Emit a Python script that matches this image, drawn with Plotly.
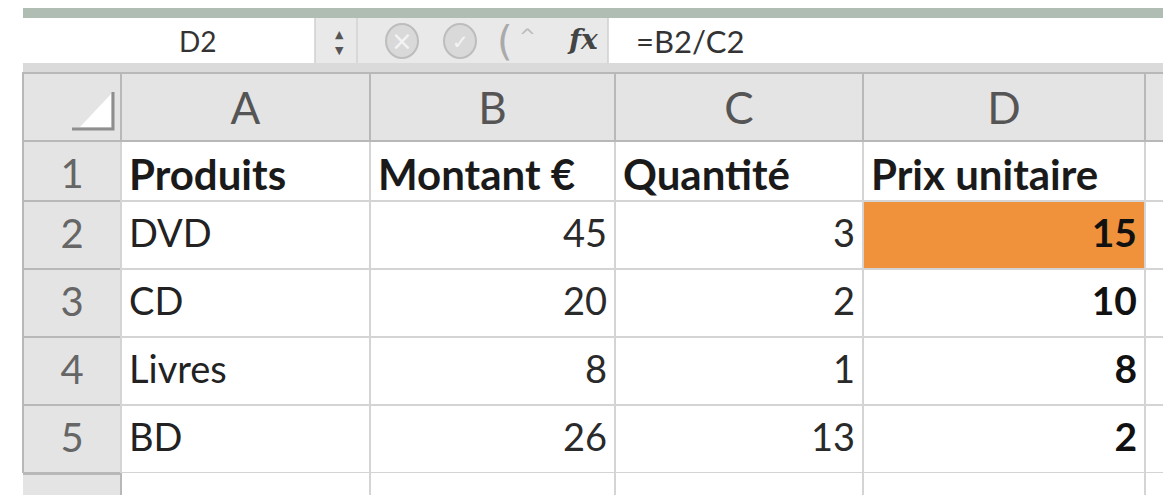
import plotly.graph_objects as go

# ---------------- data ----------------
col_letters = ["A", "B", "C", "D"]
row_numbers = ["1", "2", "3", "4", "5"]
titles = ["Produits", "Montant €", "Quantité", "Prix unitaire"]
produits = ["DVD", "CD", "Livres", "BD"]
montant = [45, 20, 8, 26]
quantite = [3, 2, 1, 13]
prix_unitaire = [15, 10, 8, 2]
active_cell = "D2"
formula = "=B2/C2"

W, H = 1171, 495
OFF = 8            # default page margin of the html body
FW, FH = W - OFF, H - OFF
FONT = "Lato"


def X(px):
    return max(0.0, (px - OFF) / FW)


def Y(py):
    return min(1.0, 1 - (py - OFF) / FH)


def tag(v, bold=False):
    # rich-text markup (also gives the same vertical placement to every cell)
    if v == "":
        return ""
    return ("<b>%s</b>" if bold else "<span>%s</span>") % v


col_widths = [98, 249, 245, 248, 282, 26]
GRID = "#D4D4D4"
HDR_LINE = "#B8B8B8"
HDR_FILL = "#E4E4E4"
ORANGE = "#F0913C"

fig = go.Figure()

# column letters + row 1 (titles)
fig.add_trace(go.Table(
    domain=dict(x=[X(23), 1], y=[Y(201), Y(73)]),
    columnwidth=col_widths,
    header=dict(
        values=[""] + [tag(c) for c in col_letters] + [""],
        fill_color=HDR_FILL,
        line=dict(color=HDR_LINE, width=2),
        font=dict(family=FONT, size=44, color="#555555"),
        align="center",
        height=60,
    ),
    cells=dict(
        values=[[tag(row_numbers[0])]] + [[tag(t, True)] for t in titles] + [[""]],
        fill_color=[HDR_FILL, "white", "white", "white", "white", "white"],
        line=dict(color=[HDR_LINE, GRID, GRID, GRID, GRID, GRID], width=2),
        font=dict(family=FONT, size=[40, 42, 42, 42, 42, 42],
                  color=["#666666", "#1a1a1a", "#1a1a1a", "#1a1a1a", "#1a1a1a", "#1a1a1a"]),
        align=["center", "left", "left", "left", "left", "left"],
        height=68,
    ),
))

# row 2 as header of the second table, rows 3..5 as cells
body_cols = [[tag(v) for v in row_numbers[1:]],
             [tag(v) for v in produits],
             [tag(v) for v in montant],
             [tag(v) for v in quantite],
             [tag(v, True) for v in prix_unitaire],
             [""] * len(produits)]
fonts = dict(family=FONT, size=[40, 38, 38, 38, 39, 38],
             color=["#666666", "#222222", "#2a2a2a", "#2a2a2a", "#111111", "#111111"])
aligns = ["center", "left", "right", "right", "right", "right"]
lines = dict(color=[HDR_LINE, GRID, GRID, GRID, GRID, GRID], width=2)
fig.add_trace(go.Table(
    domain=dict(x=[X(23), 1], y=[Y(473), Y(201)]),
    columnwidth=col_widths,
    header=dict(
        values=[c[0] for c in body_cols],
        fill_color=[HDR_FILL, "white", "white", "white", ORANGE, "white"],
        line=lines, font=fonts, align=aligns, height=68,
    ),
    cells=dict(
        values=[c[1:] for c in body_cols],
        fill_color=[HDR_FILL, "white", "white", "white", "white", "white"],
        line=lines, font=fonts, align=aligns, height=68,
    ),
))

shapes = []


def rect(x0, y0, x1, y1, fill, line=None, lw=0):
    shapes.append(dict(type="rect", xref="paper", yref="paper",
                       x0=X(x0), x1=X(x1), y0=Y(y1), y1=Y(y0),
                       fillcolor=fill, line=dict(color=line or fill, width=lw),
                       layer="below"))


def vline(x, y0, y1, color, w=2):
    shapes.append(dict(type="line", xref="paper", yref="paper",
                       x0=X(x), x1=X(x), y0=Y(y1), y1=Y(y0),
                       line=dict(color=color, width=w), layer="above"))


def hline(y, x0, x1, color, w=2):
    shapes.append(dict(type="line", xref="paper", yref="paper",
                       x0=X(x0), x1=X(x1), y0=Y(y), y1=Y(y),
                       line=dict(color=color, width=w), layer="above"))


# window chrome: green band
rect(23, 7, 1165, 18, "#AFBDB2")
# formula bar
rect(23, 18, 1160, 63, "white")
rect(315, 18, 608, 63, "#E9E9E9")
vline(315, 18, 63, "#CFCFCF", 1.5)
vline(357, 18, 63, "#D2D2D2", 1.5)
vline(608, 18, 63, "#CFCFCF", 1.5)
rect(23, 63, 1165, 73, "#DADADA")

# partial row 6
rect(23, 473, 121, H, HDR_FILL)
hline(474, 23, 121, HDR_LINE, 2)
for x in [121, 370, 615, 863, 1145]:
    vline(x, 473, H, GRID if x != 121 else HDR_LINE, 2)

# corner triangle of the select-all cell
shapes.append(dict(type="path", xref="paper", yref="paper",
                   path="M %f %f L %f %f L %f %f Z" % (X(80), Y(127), X(111), Y(127), X(111), Y(94)),
                   fillcolor="white", line=dict(color="#FFFFFF", width=0), layer="above"))
shapes.append(dict(type="path", xref="paper", yref="paper",
                   path="M %f %f L %f %f L %f %f" % (X(72), Y(129), X(113), Y(129), X(113), Y(92)),
                   line=dict(color="#8E8E8E", width=3), layer="above"))

# formula-bar icons
for cx in [402, 460]:
    shapes.append(dict(type="circle", xref="paper", yref="paper",
                       x0=X(cx - 16), x1=X(cx + 16), y0=Y(58), y1=Y(24),
                       fillcolor="#D9D9D9", line=dict(color="#BDBDBD", width=2), layer="above"))

annotations = [
    dict(x=X(177), y=Y(41), text=active_cell, font=dict(family=FONT, size=28, color="#333333")),
    dict(x=X(333), y=Y(34), text="▲", font=dict(family="DejaVu Sans", size=11, color="#555555")),
    dict(x=X(333), y=Y(50), text="▼", font=dict(family="DejaVu Sans", size=11, color="#555555")),
    dict(x=X(402), y=Y(41), text="×", font=dict(family="DejaVu Sans", size=26, color="#F4F4F4")),
    dict(x=X(460), y=Y(42), text="✓", font=dict(family="DejaVu Sans", size=20, color="#F4F4F4")),
    dict(x=X(505), y=Y(41), text="(", font=dict(family="DejaVu Sans", size=40, color="#AAAAAA")),
    dict(x=X(527), y=Y(36), text="^", font=dict(family="DejaVu Sans", size=20, color="#BBBBBB")),
    dict(x=X(582), y=Y(40), text="<i><b>fx</b></i>", font=dict(family="DejaVu Serif", size=28, color="#444444")),
    dict(x=X(634), y=Y(41), text=formula, xanchor="left", font=dict(family=FONT, size=31, color="#333333")),
]
for a in annotations:
    a.setdefault("xref", "paper")
    a.setdefault("yref", "paper")
    a.setdefault("showarrow", False)
    a.setdefault("yanchor", "middle")

fig.update_layout(
    width=FW, height=FH,
    margin=dict(l=0, r=0, t=0, b=0),
    paper_bgcolor="white",
    plot_bgcolor="white",
    shapes=shapes,
    annotations=annotations,
    showlegend=False,
)

fig.write_html("out.html")
